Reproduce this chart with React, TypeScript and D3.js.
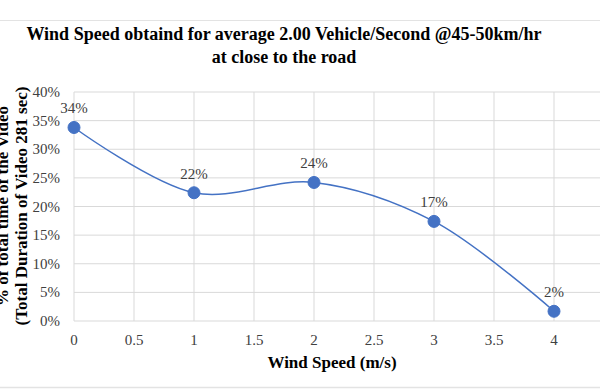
import { useEffect, useRef } from 'react';
import * as d3 from 'd3';

const windSpeed = [0, 1, 2, 3, 4];
const shareOfTime = [0.338, 0.224, 0.242, 0.174, 0.017];
const shareLabels = ['34%', '22%', '24%', '17%', '2%'];
const xTicks = [0, 0.5, 1, 1.5, 2, 2.5, 3, 3.5, 4];
const yTicks = [0, 0.05, 0.1, 0.15, 0.2, 0.25, 0.3, 0.35, 0.4];

const W = 600;
const H = 390;
const margin = { top: 92, right: 0, bottom: 69, left: 74 };
const blue = '#4472C4';
const serif = "'Liberation Serif', 'Times New Roman', serif";

export default function App() {
  const svgRef = useRef<SVGSVGElement>(null);

  useEffect(() => {
    if (!svgRef.current) return;
    const svg = d3.select(svgRef.current);
    svg.selectAll('*').remove();

    // plot runs on past 4 (to 4.5), cut off by the right edge
    const x = d3.scaleLinear().domain([0, 4.5]).range([margin.left, margin.left + 540]);
    const y = d3.scaleLinear().domain([0, 0.4]).range([H - margin.bottom, margin.top]);

    // frame lines of the chart area
    svg.append('line').attr('x1', 0).attr('x2', W).attr('y1', 20.5).attr('y2', 20.5)
      .attr('stroke', '#e3e3e3').attr('stroke-width', 1);
    svg.append('line').attr('x1', 0).attr('x2', W).attr('y1', 387.5).attr('y2', 387.5)
      .attr('stroke', '#e3e3e3').attr('stroke-width', 1.5);

    const grid = svg.append('g');
    yTicks.forEach((t) => {
      grid.append('line')
        .attr('x1', x(0)).attr('x2', W)
        .attr('y1', y(t)).attr('y2', y(t))
        .attr('stroke', '#d9d9d9').attr('stroke-width', 1);
    });
    xTicks.concat([4.5]).forEach((t) => {
      grid.append('line')
        .attr('x1', x(t)).attr('x2', x(t))
        .attr('y1', y(0.4)).attr('y2', y(0))
        .attr('stroke', '#d9d9d9').attr('stroke-width', 1);
    });

    // y tick labels
    svg.append('g').selectAll('text').data(yTicks).join('text')
      .attr('x', 60).attr('y', (d) => y(d) + 5)
      .attr('text-anchor', 'end')
      .style('font-family', serif).attr('font-size', 15).attr('fill', '#404040')
      .text((d) => d3.format('.0%')(d));

    // x tick labels
    svg.append('g').selectAll('text').data(xTicks).join('text')
      .attr('x', (d) => x(d)).attr('y', 345)
      .attr('text-anchor', 'middle')
      .style('font-family', serif).attr('font-size', 15).attr('fill', '#404040')
      .text((d) => String(d));

    const pts = windSpeed.map((w, i) => [x(w), y(shareOfTime[i])] as [number, number]);
    const line = d3.line().curve(d3.curveCatmullRom.alpha(0.5));
    svg.append('path')
      .attr('d', line(pts))
      .attr('fill', 'none').attr('stroke', blue).attr('stroke-width', 1.5);

    svg.append('g').selectAll('circle').data(pts).join('circle')
      .attr('cx', (d) => d[0]).attr('cy', (d) => d[1]).attr('r', 6)
      .attr('fill', blue).attr('stroke', blue);

    svg.append('g').selectAll('text').data(pts).join('text')
      .attr('x', (d) => d[0]).attr('y', (d) => d[1] - 14)
      .attr('text-anchor', 'middle')
      .style('font-family', serif).attr('font-size', 15).attr('fill', '#404040')
      .text((_, i) => shareLabels[i]);

    // titles
    const title = svg.append('text')
      .attr('text-anchor', 'middle')
      .style('font-family', serif).attr('font-size', 18).attr('font-weight', 'bold').attr('fill', '#000');
    title.append('tspan').attr('x', 284).attr('y', 40)
      .text('Wind Speed obtaind for average 2.00 Vehicle/Second @45-50km/hr');
    title.append('tspan').attr('x', 284).attr('y', 63).text('at close to the road');

    svg.append('text')
      .attr('x', 332).attr('y', 368)
      .attr('text-anchor', 'middle')
      .style('font-family', serif).attr('font-size', 17).attr('font-weight', 'bold').attr('fill', '#000')
      .text('Wind Speed (m/s)');

    const yTitle = svg.append('text')
      .attr('transform', 'translate(0,206) rotate(-90)')
      .attr('text-anchor', 'middle')
      .style('font-family', serif).attr('font-size', 17).attr('font-weight', 'bold').attr('fill', '#000');
    yTitle.append('tspan').attr('x', 0).attr('y', 8).text('% of total time of the Video');
    yTitle.append('tspan').attr('x', 0).attr('y', 27).text('(Total Duration of Video 281 sec)');
  }, []);

  return (
    <svg
      ref={svgRef}
      width={W}
      height={H}
      style={{ position: 'absolute', left: 0, top: 0, background: '#fff' }}
    />
  );
}
